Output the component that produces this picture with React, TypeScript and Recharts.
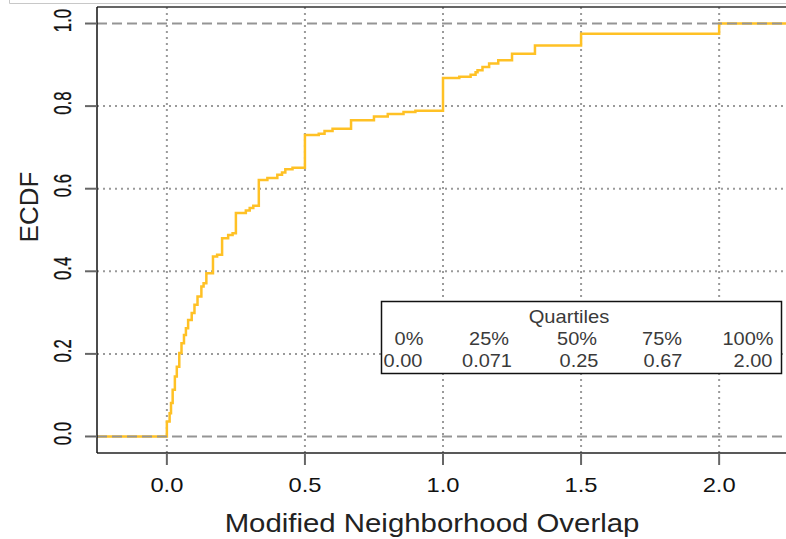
import { LineChart, Line, XAxis, YAxis, CartesianGrid, ReferenceLine, Label } from 'recharts';

// Empirical CDF of the modified neighborhood overlap (step breakpoints)
const overlapX = [
  -0.253, 0, 0.01, 0.015, 0.021, 0.029, 0.036, 0.045, 0.053, 0.062, 0.069, 0.077, 0.09, 0.1,
  0.111, 0.125, 0.133, 0.143, 0.167, 0.182, 0.2, 0.222, 0.238, 0.25, 0.286, 0.3, 0.313,
  0.333, 0.364, 0.4, 0.417, 0.429, 0.455, 0.5, 0.55, 0.571, 0.6, 0.667, 0.75, 0.8, 0.857,
  0.9, 1.0, 1.059, 1.1, 1.118, 1.125, 1.143, 1.167, 1.2, 1.25, 1.333, 1.5, 2.0, 2.253,
];
const ecdfValues = [
  0, 0.036, 0.056, 0.081, 0.113, 0.145, 0.169, 0.202, 0.226, 0.246, 0.262, 0.282, 0.299, 0.319,
  0.339, 0.363, 0.371, 0.395, 0.436, 0.44, 0.48, 0.488, 0.492, 0.541, 0.547, 0.553, 0.559,
  0.621, 0.626, 0.634, 0.639, 0.647, 0.651, 0.73, 0.733, 0.74, 0.745, 0.766, 0.775, 0.781, 0.786,
  0.789, 0.868, 0.871, 0.876, 0.882, 0.887, 0.895, 0.903, 0.911, 0.927, 0.947, 0.975, 1.0, 1.0,
];

const xTicks = [0, 0.5, 1, 1.5, 2];
const yTicks = [0, 0.2, 0.4, 0.6, 0.8, 1];
const yGridLines = [0.2, 0.4, 0.6, 0.8];

const quartileNames = ['0%', '25%', '50%', '75%', '100%'];
const quartileValues = ['0.00', '0.071', '0.25', '0.67', '2.00'];

const FONT = '"Liberation Sans", Arial, Helvetica, sans-serif';

const chartData = overlapX.map((x, i) => ({ x, F: ecdfValues[i] }));

function XTick({ x, payload }: any) {
  return (
    <text
      transform={`translate(${x},492) scale(1.13,1)`}
      textAnchor="middle"
      fontSize={21}
      fontFamily={FONT}
      fill="#111"
    >
      {Number(payload.value).toFixed(1)}
    </text>
  );
}

function YTick({ y, payload }: any) {
  return (
    <text
      transform={`translate(71,${y - 3}) rotate(-90) scale(0.7,1)`}
      textAnchor="middle"
      fontSize={24}
      fontFamily={FONT}
      fill="#111"
      stroke="#111"
      strokeWidth={0.3}
    >
      {Number(payload.value).toFixed(1)}
    </text>
  );
}

// quartile table drawn in the lower right of the plot
function QuartileBox() {
  const nameCols = [409, 489, 577, 662, 748];
  const valueCols = [403, 487, 579, 663, 753];
  return (
    <svg
      width={786}
      height={539}
      style={{ position: 'absolute', left: 0, top: 0, pointerEvents: 'none' }}
      fontFamily={FONT}
    >
      <path d="M9.5 0 V3.5 H786" stroke="#c8c8c8" strokeWidth={1} fill="none" />
      <rect x={381.5} y={301.5} width={400} height={72} fill="#fff" stroke="#111" strokeWidth={1.5} />
      <text transform="translate(569,323) scale(1.12,1)" textAnchor="middle" fontSize={18} fill="#3a3a3a">
        Quartiles
      </text>
      {quartileNames.map((n, i) => (
        <text
          key={n}
          transform={`translate(${nameCols[i]},345) scale(1.14,1)`}
          textAnchor="middle"
          fontSize={17.5}
          fill="#3a3a3a"
        >
          {n}
        </text>
      ))}
      {quartileValues.map((v, i) => (
        <text
          key={v}
          transform={`translate(${valueCols[i]},366.5) scale(1.14,1)`}
          textAnchor="middle"
          fontSize={17.5}
          fill="#3a3a3a"
        >
          {v}
        </text>
      ))}
    </svg>
  );
}

export default function App() {
  return (
    <div
      style={{
        position: 'fixed',
        left: 0,
        top: 0,
        width: 786,
        height: 539,
        overflow: 'hidden',
        background: '#fff',
      }}
    >
      <LineChart width={800} height={539} data={chartData} margin={{ top: 7, right: 11, bottom: 0, left: 0 }}>
        <CartesianGrid
          stroke="#9a9a9a"
          strokeWidth={2}
          strokeDasharray="2 4"
          horizontalValues={yGridLines}
          verticalValues={xTicks}
        />
        <XAxis
          dataKey="x"
          type="number"
          domain={[-0.253, 2.253]}
          allowDataOverflow
          ticks={xTicks}
          height={86}
          tickSize={12}
          tickLine={{ stroke: '#666', strokeWidth: 2 }}
          axisLine={{ stroke: '#222', strokeWidth: 1.5 }}
          tick={<XTick />}
          interval={0}
        >
          <Label
            content={() => (
              <text
                transform="translate(432,531.5) scale(1.13,1)"
                textAnchor="middle"
                fontSize={26}
                fontFamily={FONT}
                fill="#222"
              >
                Modified Neighborhood Overlap
              </text>
            )}
          />
        </XAxis>
        <YAxis
          type="number"
          domain={[-0.04, 1.04]}
          allowDataOverflow
          ticks={yTicks}
          width={97}
          tickSize={12}
          tickLine={{ stroke: '#666', strokeWidth: 2 }}
          axisLine={{ stroke: '#111', strokeWidth: 1.5 }}
          tick={<YTick />}
          interval={0}
        >
          <Label
            content={() => (
              <text
                transform="translate(38,207) rotate(-90)"
                textAnchor="middle"
                fontSize={26}
                fontFamily={FONT}
                fill="#222"
              >
                ECDF
              </text>
            )}
          />
        </YAxis>
        <ReferenceLine y={1.04} ifOverflow="visible" stroke="#333" strokeWidth={1.5} />
        <Line
          dataKey="F"
          type="stepAfter"
          stroke="#FFC125"
          strokeWidth={2.5}
          dot={false}
          activeDot={false}
          isAnimationActive={false}
        />
        <ReferenceLine y={0} stroke="#959595" strokeWidth={2} strokeDasharray="10 5" />
        <ReferenceLine y={1} stroke="#959595" strokeWidth={2} strokeDasharray="10 5" />
      </LineChart>
      <QuartileBox />
    </div>
  );
}
